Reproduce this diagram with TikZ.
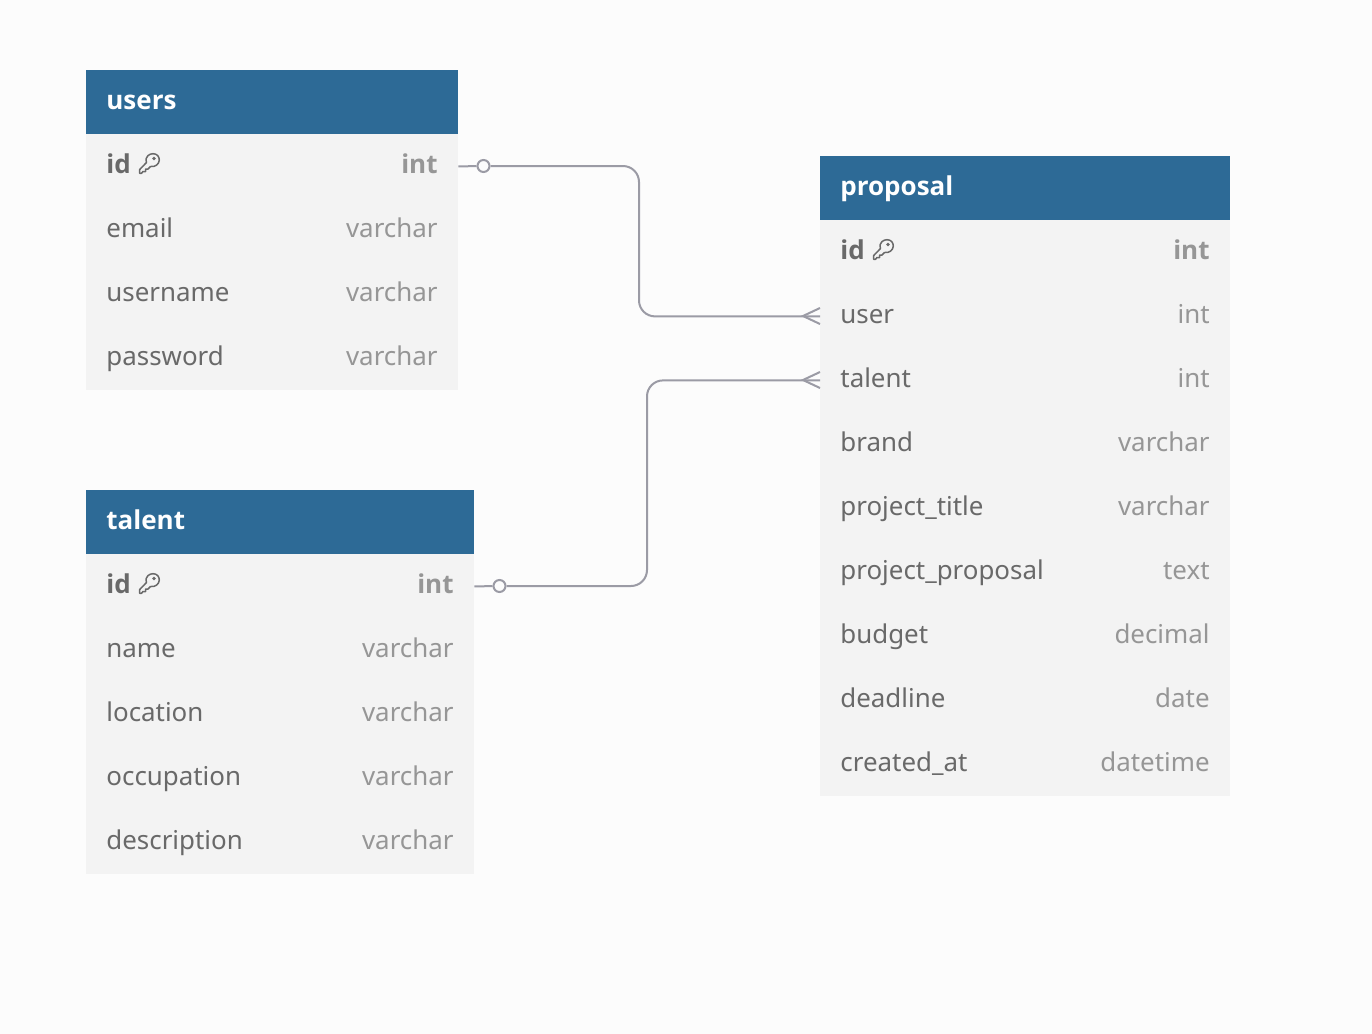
\documentclass[tikz,border=0pt]{standalone}
\usepackage{fontspec}
\setmainfont{Noto Sans}
\newfontfamily\heavyfont{Open Sans}
\definecolor{headblue}{RGB}{45,106,150}
\definecolor{bodygrey}{RGB}{243,243,243}
\definecolor{pagegrey}{RGB}{252,252,252}
\definecolor{namegrey}{RGB}{105,105,105}
\definecolor{typegrey}{RGB}{150,150,150}
\definecolor{linegrey}{RGB}{155,155,165}
\tikzset{
  headbox/.style={fill=headblue,anchor=north west,minimum height=32pt,inner sep=0pt},
  headtext/.style={anchor=base west,inner sep=0pt,text=white,font=\fontsize{13}{16}\selectfont\heavyfont\bfseries},
  rowbox/.style={fill=bodygrey,anchor=north west,minimum height=32pt,inner sep=0pt},
  nametext/.style={anchor=base west,inner sep=0pt,text=namegrey,font=\fontsize{12.95}{16}\selectfont},
  typetext/.style={anchor=base east,inner sep=0pt,text=typegrey,font=\fontsize{12.95}{16}\selectfont},
  pkname/.style={nametext,font=\fontsize{13}{16}\selectfont\heavyfont\bfseries},
  pktype/.style={typetext,font=\fontsize{13}{16}\selectfont\heavyfont\bfseries},
  rel/.style={draw=linegrey,line width=1pt,rounded corners=8pt},
  crow/.style={draw=linegrey,line width=1pt},
  optring/.style={circle,draw=linegrey,line width=1pt,fill=pagegrey,minimum size=6pt,inner sep=0pt},
  pics/keyicon/.style={code={
    \draw[yscale=-1,namegrey,line width=0.75pt,line join=round,fill=none]
      (0.7,16.5) -- (7.5,9.5) .. controls (5.5,3) and (11,0.7) .. (14,0.7)
      .. controls (18,0.7) and (20.3,3.5) .. (20.3,7) .. controls (20.3,11) and (16,14.5) .. (11.5,13.5)
      -- (9,16) -- (6.5,16) -- (6.5,18.5) -- (4,18.5) -- (2.5,20.3) -- (0.7,20.3) -- cycle;
    \fill[yscale=-1,namegrey] (15,5.5) circle (1.8);
  }}
}
\begin{document}
\begin{tikzpicture}[x=0.5pt,y=0.5pt,yscale=-1,xscale=1]
\useasboundingbox[fill=pagegrey] (0,0) rectangle (1372,1034);

% users
\node[headbox,minimum width=185.75pt] (usershead) at (86,70) {};
\node[rowbox,minimum width=185.75pt] (usersid) at (86,134) {};
\node[rowbox,minimum width=185.75pt] (usersemail) at (86,198) {};
\node[rowbox,minimum width=185.75pt] (usersname) at (86,262) {};
\node[rowbox,minimum width=185.75pt] (userspass) at (86,326) {};
\node[headtext] (userstitle) at (106,109) {users};
\node[pkname] (usersidname) at (106,173) {id};
\node[nametext] (usersemailname) at (106,237) {email};
\node[nametext] (usersnamename) at (106,301) {username};
\node[nametext] (userspassname) at (106,365) {password};
\node[pktype] (usersidtype) at (438,173) {int};
\node[typetext] (usersemailtype) at (438,237) {varchar};
\node[typetext] (usersnametype) at (438,301) {varchar};
\node[typetext] (userspasstype) at (438,365) {varchar};
\pic at (139,153) {keyicon};

% talent
\node[headbox,minimum width=193.75pt] (talenthead) at (86,490) {};
\node[rowbox,minimum width=193.75pt] (talentid) at (86,554) {};
\node[rowbox,minimum width=193.75pt] (talentname) at (86,618) {};
\node[rowbox,minimum width=193.75pt] (talentloc) at (86,682) {};
\node[rowbox,minimum width=193.75pt] (talentocc) at (86,746) {};
\node[rowbox,minimum width=193.75pt] (talentdesc) at (86,810) {};
\node[headtext] (talenttitle) at (106,529) {talent};
\node[pkname] (talentidname) at (106,593) {id};
\node[nametext] (talentnamename) at (106,657) {name};
\node[nametext] (talentlocname) at (106,721) {location};
\node[nametext] (talentoccname) at (106,785) {occupation};
\node[nametext] (talentdescname) at (106,849) {description};
\node[pktype] (talentidtype) at (454,593) {int};
\node[typetext] (talentnametype) at (454,657) {varchar};
\node[typetext] (talentloctype) at (454,721) {varchar};
\node[typetext] (talentocctype) at (454,785) {varchar};
\node[typetext] (talentdesctype) at (454,849) {varchar};
\pic at (139,573) {keyicon};

% proposal
\node[headbox,minimum width=205pt] (prophead) at (820,156) {};
\node[rowbox,minimum width=205pt] (propid) at (820,220) {};
\node[rowbox,minimum width=205pt] (propuser) at (820,284) {};
\node[rowbox,minimum width=205pt] (proptalent) at (820,348) {};
\node[rowbox,minimum width=205pt] (propbrand) at (820,412) {};
\node[rowbox,minimum width=205pt] (proptitle) at (820,476) {};
\node[rowbox,minimum width=205pt] (propprop) at (820,540) {};
\node[rowbox,minimum width=205pt] (propbudget) at (820,604) {};
\node[rowbox,minimum width=205pt] (propdead) at (820,668) {};
\node[rowbox,minimum width=205pt] (propcreated) at (820,732) {};
\node[headtext] (proptitletext) at (840,195) {proposal};
\node[pkname] (propidname) at (840,259) {id};
\node[nametext] (propusername) at (840,323) {user};
\node[nametext] (proptalentname) at (840,387) {talent};
\node[nametext] (propbrandname) at (840,451) {brand};
\node[nametext] (proptitlename) at (840,515) {project\_title};
\node[nametext] (proppropname) at (840,579) {project\_proposal};
\node[nametext] (propbudgetname) at (840,643) {budget};
\node[nametext] (propdeadname) at (840,707) {deadline};
\node[nametext] (propcreatedname) at (840,771) {created\_at};
\node[pktype] (propidtype) at (1210,259) {int};
\node[typetext] (propusertype) at (1210,323) {int};
\node[typetext] (proptalenttype) at (1210,387) {int};
\node[typetext] (propbrandtype) at (1210,451) {varchar};
\node[typetext] (proptitletype) at (1210,515) {varchar};
\node[typetext] (proppropttype) at (1210,579) {text};
\node[typetext] (propbudgettype) at (1210,643) {decimal};
\node[typetext] (propdeadtype) at (1210,707) {date};
\node[typetext] (propcreatedtype) at (1210,771) {datetime};
\pic at (873,239) {keyicon};

% connectors
\coordinate (bendone) at (639,240);
\coordinate (bendtwo) at (647,480);
\node[optring] (ringone) at (483.5,166) {};
\node[optring] (ringtwo) at (499.5,586) {};
\draw[crow] (usersid.east) -- (ringone);
\draw[crow] (talentid.east) -- (ringtwo);
\draw[rel] (ringone) -| (bendone) |- (propuser.west);
\draw[rel] (ringtwo) -| (bendtwo) |- (proptalent.west);
\draw[crow] (820,308) -- (803,316) -- (820,324);
\draw[crow] (820,372) -- (803,380) -- (820,388);
\end{tikzpicture}
\end{document}
